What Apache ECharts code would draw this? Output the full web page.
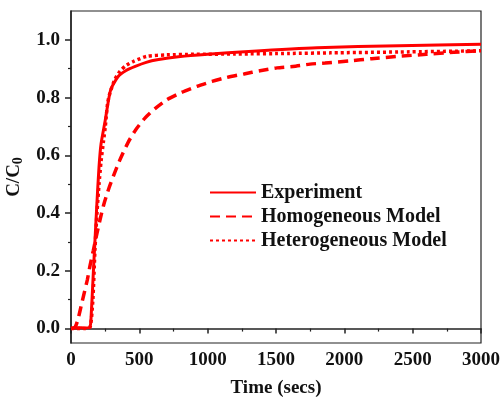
<!DOCTYPE html>
<html>
<head>
<meta charset="utf-8">
<script src="https://cdn.jsdelivr.net/npm/echarts@6/dist/echarts.min.js"></script>
<style>html,body{margin:0;padding:0;background:#fff;}#c{width:501px;height:402px;}</style>
</head>
<body>
<div id="c"></div>
<script>
// Experiment
var expTime = [0, 50, 100, 138, 146, 163, 188, 205, 220, 250, 290, 345, 400, 470, 550, 630, 800, 1000, 1300, 1800, 2400, 3000];
var expC    = [0, 0.003, 0.002, 0.005, 0.03, 0.19, 0.42, 0.56, 0.64, 0.72, 0.827, 0.873, 0.893, 0.908, 0.922, 0.931, 0.942, 0.95, 0.96, 0.973, 0.98, 0.985];
// Homogeneous Model
var homTime = [0, 30, 50, 80, 100, 120, 140, 163, 190, 212, 240, 278, 320, 363, 419, 474, 541, 615, 700, 810, 922, 1032, 1141, 1266, 1383, 1507, 1624, 1749, 1859, 2034, 2200, 2400, 2600, 2800, 3000];
var homC    = [0, 0.005, 0.03, 0.09, 0.13, 0.17, 0.22, 0.27, 0.33, 0.376, 0.43, 0.487, 0.54, 0.59, 0.646, 0.689, 0.729, 0.762, 0.792, 0.818, 0.839, 0.856, 0.87, 0.882, 0.893, 0.903, 0.908, 0.916, 0.92, 0.927, 0.935, 0.943, 0.95, 0.957, 0.963];
// Heterogeneous Model
var hetTime = [0, 100, 140, 160, 175, 190, 205, 220, 236, 251, 268, 285, 320, 358, 400, 456, 554, 700, 900, 1200, 1600, 1900, 2400, 3000];
var hetC    = [0, 0, 0.005, 0.1, 0.27, 0.4, 0.5, 0.58, 0.643, 0.70, 0.781, 0.816, 0.862, 0.891, 0.91, 0.925, 0.943, 0.948, 0.95, 0.951, 0.953, 0.955, 0.958, 0.962];
var seriesNames = ['Experiment', 'Homogeneous Model', 'Heterogeneous Model'];
var xTicks = {min: 0, max: 3000, interval: 500};
var yTicks = {min: 0, max: 1.0, interval: 0.2};
var yRange = {min: -0.05, max: 1.1};

function pairs(t, c) { return t.map(function (v, i) { return [v, c[i]]; }); }

var FONT = 'Liberation Serif';
var gridTop = 11, gridBottom = 59, H = 402;
var plotH = H - gridTop - gridBottom;
var pxPer = plotH / (yRange.max - yRange.min);
var y0px = H - gridBottom - (yTicks.min - yRange.min) * pxPer;
var y1px = gridTop + (yRange.max - yTicks.max) * pxPer;

var chart = echarts.init(document.getElementById('c'), null, {renderer: 'canvas'});
chart.setOption({
  animation: false,
  backgroundColor: '#fff',
  grid: [
    {left: 71, right: 20, top: gridTop, bottom: gridBottom, show: true, borderColor: '#222', borderWidth: 1.2, containLabel: false, outerBoundsMode: 'none'},
    {left: 71, right: 20, top: y1px, bottom: H - y0px, show: false, containLabel: false, outerBoundsMode: 'none'}
  ],
  legend: {
    orient: 'vertical', left: 204, top: 177, itemWidth: 46, itemHeight: 14, itemGap: 3,
    itemStyle: {opacity: 0},
    textStyle: {fontFamily: FONT, fontWeight: 'bold', fontSize: 20, color: '#111', lineHeight: 21},
    data: seriesNames
  },
  xAxis: [
    {
      type: 'value', gridIndex: 0, min: xTicks.min, max: xTicks.max, interval: xTicks.interval,
      name: 'Time (secs)', nameLocation: 'middle', nameGap: 36,
      nameTextStyle: {fontFamily: FONT, fontWeight: 'bold', fontSize: 19, color: '#111'},
      axisLine: {show: true, lineStyle: {color: '#222', width: 1.5}},
      axisTick: {show: true, inside: false, length: 5, lineStyle: {color: '#222', width: 1.5}},
      minorTick: {show: true, splitNumber: 2, length: 3, lineStyle: {color: '#222', width: 1.2}},
      axisLabel: {fontFamily: FONT, fontWeight: 'bold', fontSize: 19, color: '#111', margin: 8,
        formatter: function (v) { return String(v); }},
      splitLine: {show: false}
    },
    {type: 'value', gridIndex: 1, min: xTicks.min, max: xTicks.max, show: false}
  ],
  yAxis: [
    {
      type: 'value', gridIndex: 0, min: yRange.min, max: yRange.max,
      name: '{a|C/C}{b|0}', nameLocation: 'middle', nameGap: 46, nameRotate: 90,
      nameTextStyle: {
        rich: {
          a: {fontFamily: FONT, fontWeight: 'bold', fontSize: 19, color: '#111', lineHeight: 22},
          b: {fontFamily: FONT, fontWeight: 'bold', fontSize: 14, color: '#111', lineHeight: 22, padding: [8, 0, 0, 0]}
        }
      },
      axisLine: {show: true, lineStyle: {color: '#222', width: 1.5}},
      axisTick: {show: false}, axisLabel: {show: false}, splitLine: {show: false}
    },
    {
      type: 'value', gridIndex: 1, min: yTicks.min, max: yTicks.max, interval: yTicks.interval,
      axisLine: {show: false},
      axisTick: {show: true, inside: false, length: 6, lineStyle: {color: '#222', width: 1.5}},
      minorTick: {show: true, splitNumber: 2, length: 3, lineStyle: {color: '#222', width: 1.2}},
      axisLabel: {fontFamily: FONT, fontWeight: 'bold', fontSize: 19, color: '#111', margin: 11,
        formatter: function (v) { return v.toFixed(1); }},
      splitLine: {show: false}
    }
  ],
  series: [
    {name: seriesNames[0], type: 'line', xAxisIndex: 0, yAxisIndex: 0, data: pairs(expTime, expC),
     showSymbol: false, symbol: 'none', smooth: 0.2, lineStyle: {color: '#ff0000', width: 3}, itemStyle: {color: '#ff0000'}},
    {name: seriesNames[1], type: 'line', xAxisIndex: 0, yAxisIndex: 0, data: pairs(homTime, homC),
     showSymbol: false, symbol: 'none', smooth: 0.2, lineStyle: {color: '#ff0000', width: 3.5, type: [10, 6]}, itemStyle: {color: '#ff0000'}},
    {name: seriesNames[2], type: 'line', xAxisIndex: 0, yAxisIndex: 0, data: pairs(hetTime, hetC),
     showSymbol: false, symbol: 'none', smooth: 0.2, lineStyle: {color: '#ff0000', width: 3.5, type: [3, 3]}, itemStyle: {color: '#ff0000'}}
  ]
});
</script>
</body>
</html>
